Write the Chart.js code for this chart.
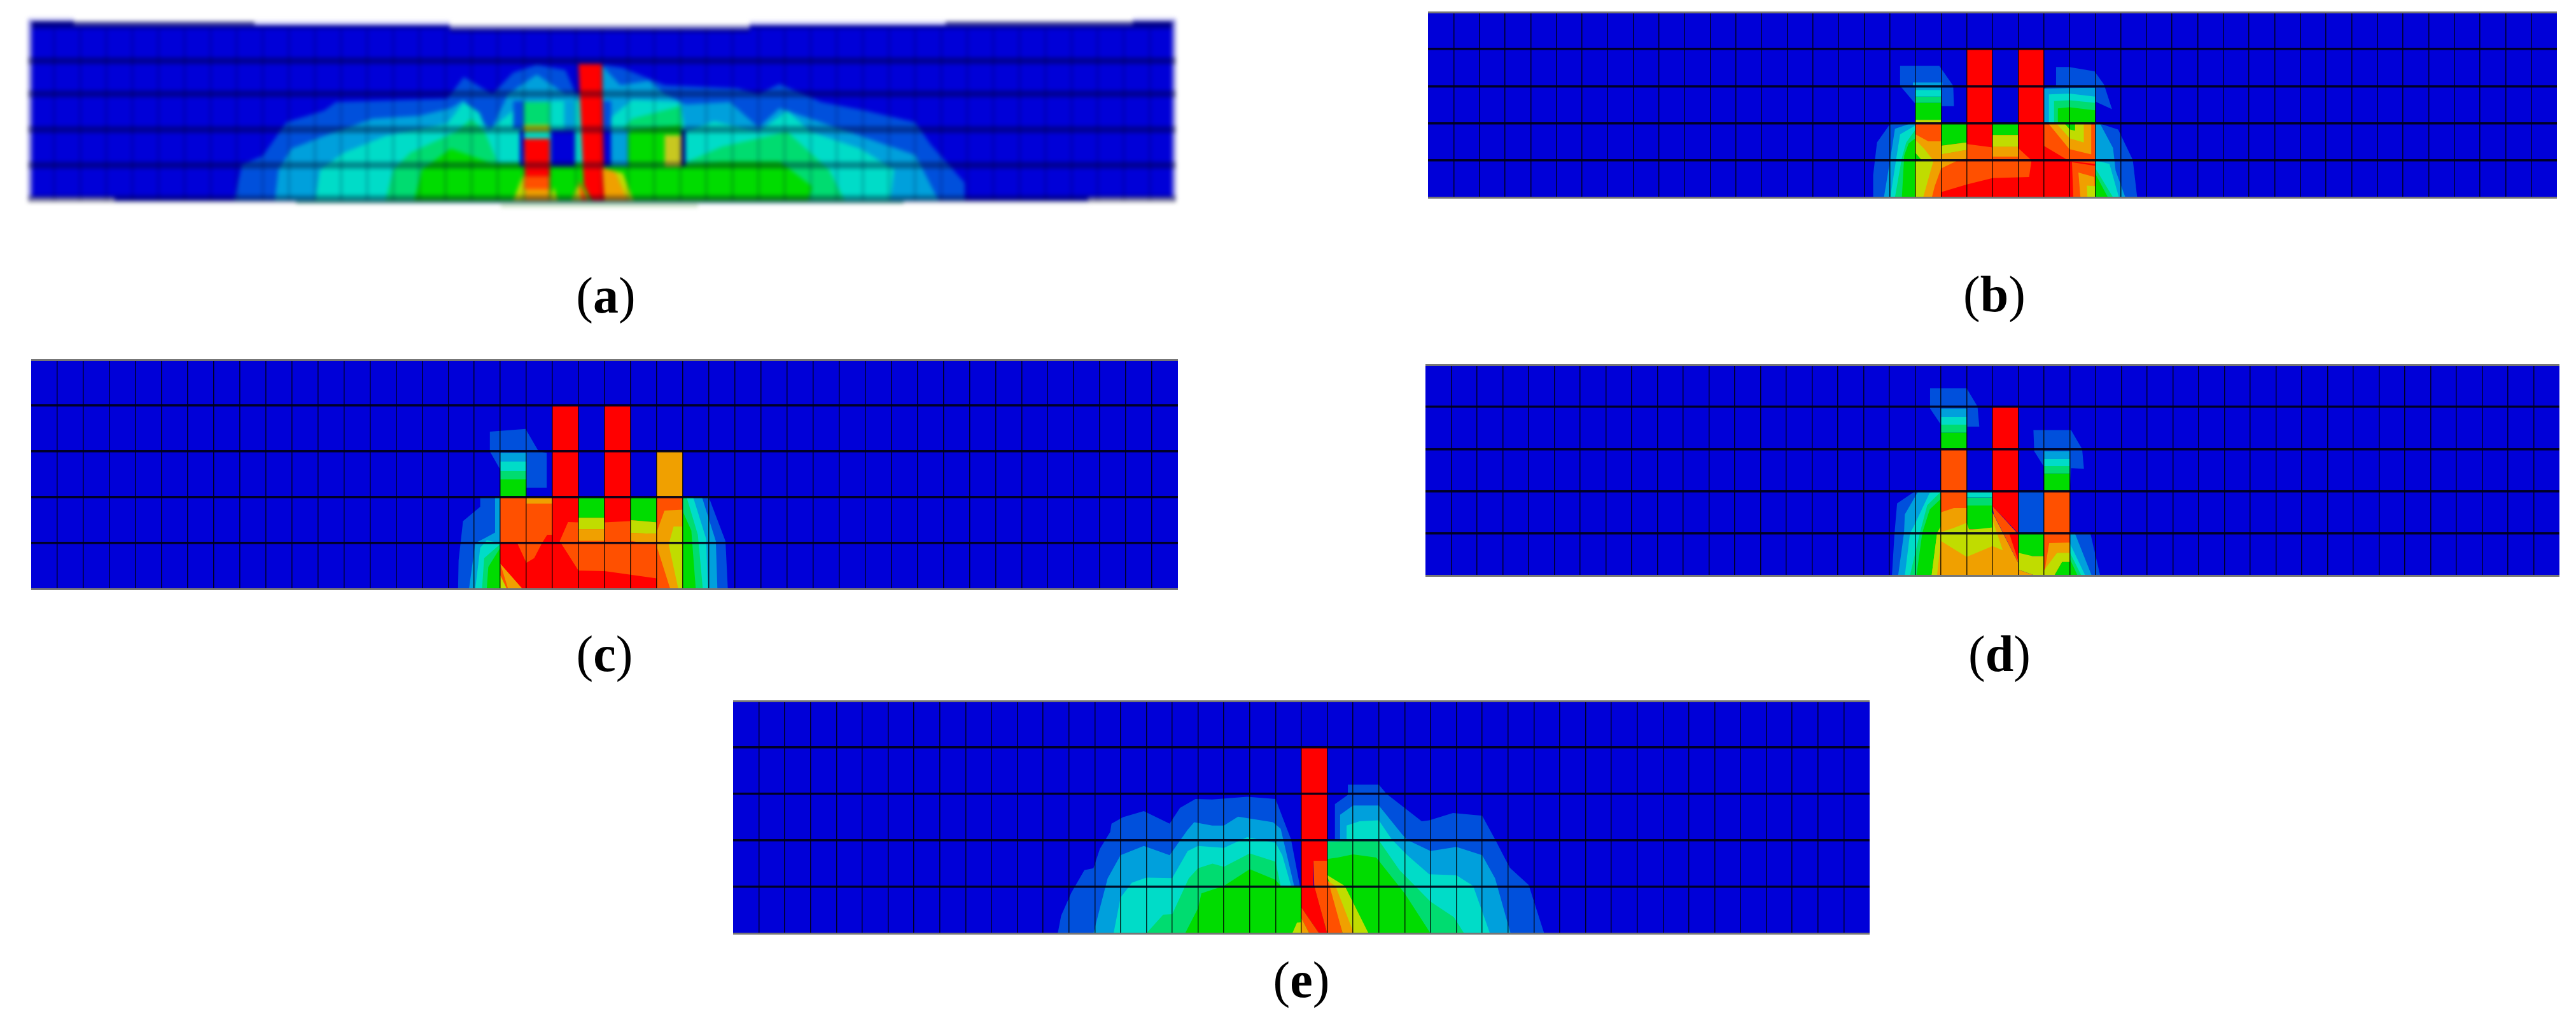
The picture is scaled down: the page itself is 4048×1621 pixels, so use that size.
<!DOCTYPE html>
<html><head><meta charset="utf-8">
<script src="https://cdn.jsdelivr.net/npm/chart.js@4"></script>
<style>
html,body{margin:0;padding:0;background:#fff;width:4048px;height:1621px;overflow:hidden}
canvas{position:absolute;display:block}
.cap{position:absolute;font-family:"Liberation Serif",serif;font-size:80px;line-height:80px;color:#000;transform:translate(-50%,-50%);white-space:nowrap}
</style></head><body>
<script>
/* contour colours */
const C0='#0000D8',C1='#0050DC',C2='#00A0DC',C3='#00DCC8',C4='#00DC70',C5='#00DC00',C6='#C0DC00',C7='#F0A000',C8='#FF5000',C9='#FF0000';
const rc=(x0,y0,x1,y1)=>[[x0,y0],[x1,y0],[x1,y1],[x0,y1]];

/* cell lines: columns and rows of the mesh */
const colLines=[1,2,3,4,5,6,7,8,9,10,11,12,13,14,15,16,17,18,19,20,21,22,23,24,25,26,27,28,29,30,31,32,33,34,35,36,37,38,39,40,41,42,43];
const rowLines=[0,1,2,3,4,5];
const rowLinesA=[0.05,1.02,2.07,3.11,4.07];

/* panel (b) */
const bHaloL=[[18.4,3.55],[19.93,3.55],[20.47,3.01],[20.5,2.46],[20,2.46],[20,2],[19,2],[19,2.52],[18.4,3.01]];
const bHaloR=[[24.48,3.52],[24.98,3.52],[25.98,3.4],[26.35,3.04],[26.66,2.38],[26.02,2.58],[26,2],[24,2],[24.02,2.96],[24.48,3.01]];
const bLowL1=[[17.35,0],[17.35,.6],[17.5,1.48],[18,1.97],[19,2],[19,0]];
const bLowR1=[[26,2],[26.2,1.99],[26.9,1.83],[27.47,1.01],[27.64,0],[26,0]];
const bLowL2=[[17.77,0],[18,.96],[18.2,1.85],[18.85,2],[19,2],[19,0]];
const bLowR2=[[26,2],[26.2,1.98],[26.7,1.33],[26.8,.72],[27.18,0],[26,0]];
const bLowL3=[[18.02,0],[18.23,.96],[18.4,1.7],[19,1.94],[19,0]];
const bLowR3=[[26,1],[26.56,.9],[26.93,0],[26,0]];
const bLowL4=[[18.2,0],[18.47,1.07],[18.64,1.48],[19,1.83],[19,0]];
const bLowR4=[[26,.8],[26.7,0],[26,0]];
const bLowL5=[[18.47,0],[18.56,1.13],[18.73,1.45],[19,1.6],[19,0]];
const bLowR5=[[26,.65],[26.5,0],[26,0]];
const bTopR2=[[24,2],[24,2.93],[25,2.95],[26,2.96],[26,2]];
const bTopR3=[[24.2,2],[24.2,2.78],[25,2.8],[26,2.72],[26,2]];
const bTopR4=[[24.4,2],[24.4,2.6],[25,2.62],[26,2.55],[26,2]];
const bTopR5=[[24.55,2],[24.55,2.4],[25,2.43],[26,2.35],[26,2]];
const bOrgL=[[19,1.7],[19.5,1.51],[20,1.51],[20,1.16],[21,1.28],[21,1.05],[20.6,.98],[20,.78],[19.75,.3],[19.64,0],[19.3,0],[19,.9]];
const bYelL=[[19,1.55],[19.35,1.3],[19.7,.99],[19.3,0],[19,0]];
const bGrnTri=[[19,1.2],[19.25,1],[19,.98]];
const bGrn20=[[20,2],[21,2],[21,1.48],[20,1.39]];
const bYel20=[[20,1.39],[21,1.48],[21,1.28],[20,1.16]];
const bRedCol=[[21,4],[22,4],[22,1.35],[21,1.44]];
const bRed=[[20,0],[20,.14],[21,.35],[22,.52],[23.43,.55],[23.52,1],[23,1.33],[23,4],[24,4],[24,1.39],[25,.98],[26,.9],[26,.85],[25.1,.95],[25.15,0]];
const bOrgR=[[24.17,2],[25.85,2],[25.85,1.16],[25,1.3]];
const bYelR=[[24.48,2],[25.56,2],[25.56,1.48],[25.02,1.59]];
const bGrnR=[[24.8,2],[25.22,2],[25.22,1.8],[25.02,1.83]];
const bOrgLow=[[25.35,.67],[25.97,.55],[26,0],[25.43,0]];
const bYelLow=[[25.68,.32],[26,.3],[26,0],[25.7,0]];
const layersB=[[C1,bHaloL],[C1,bHaloR],[C1,bLowL1],[C1,bLowR1],
 [C2,bLowL2],[C2,bLowR2],[C2,bTopR2],[C2,rc(18.9,3,20.05,3.1)],[C2,rc(19,2.9,20,3)],
 [C3,bLowL3],[C3,bLowR3],[C3,bTopR3],[C3,rc(19,2.72,20,2.9)],
 [C4,bLowL4],[C4,bLowR4],[C4,bTopR4],[C4,rc(19,2.55,20,2.72)],
 [C5,bLowL5],[C5,bLowR5],[C5,bTopR5],[C5,rc(19,2.09,20,2.55)],[C6,rc(19,2,20,2.09)],
 [C8,rc(19,0,26,2)],[C7,bOrgL],[C6,bYelL],[C5,bGrnTri],[C5,bGrn20],[C6,bYel20],
 [C5,rc(22,1.68,23,2)],[C6,rc(22,1.36,23,1.68)],[C7,rc(22,1.1,23,1.36)],
 [C9,bRedCol],[C9,bRed],[C7,bOrgR],[C6,bYelR],[C5,bGrnR],[C7,bOrgLow],[C6,bYelLow]];

/* panel (c) */
const cHalo=[[17.6,3.43],[18.97,3.49],[19.47,3],[19.78,2.97],[19.78,2.21],[19,2.21],[19,2],[18,2],[18,2.6],[17.6,3]];
const cLowL1=[[17.23,2],[18,2],[18,0],[16.38,0],[16.4,.62],[16.57,1.48],[17.23,1.79]];
const cLowL2=[[17.8,2],[18,2],[18,0],[16.8,0],[17.04,1],[17.42,1.11],[17.8,1.23]];
const cLowL3=[[17.04,0],[17.23,.9],[17.48,1.06],[18,1],[18,0]];
const cLowL4=[[17.3,0],[17.38,.67],[17.98,.97],[18,0]];
const cLowL5=[[17.48,0],[17.54,.48],[18,.9],[18,0]];
const cLowR1=[[25,2],[26,2],[26.64,1.04],[26.73,0],[25,0]];
const cLowR2=[[25,2],[25.74,2],[26.27,1.04],[26.33,0],[25,0]];
const cLowR3=[[25,2],[25.4,2],[25.9,1.09],[25.96,0],[25,0]];
const cLowR4=[[25,2],[25.15,2],[25.58,1.18],[25.77,0],[25,0]];
const cLowR5=[[25,1.69],[25.33,1.27],[25.5,0],[25,0]];
const cRed=[[18,1],[18.65,1],[19,.57],[19.3,.67],[19.6,1],[19.8,1.18],[20,1.18],[20,4],[21,4],[21,1.45],[20.6,1.46],[20.28,1.04],[21,.4],[22,.39],[24,.23],[24,0],[18.85,0],[18,.55]];
const cRed2=[[22,4],[23,4],[23,1.48],[22,1.45]];
const cGrn23=[[23,2],[24,2],[24,1.45],[23,1.5]];
const cYel23=[[23,1.5],[24,1.45],[24,1.2],[23,1.22]];
const cOrg23=[[23,1.22],[24,1.2],[24,1],[23.5,1],[23,1.05]];
const cOrg24=[[24.02,1.27],[24.3,1.71],[25,1.73],[25,0],[24.52,0],[24.02,.9]];
const cYel24=[[24.46,.97],[24.65,1.36],[25,1.36],[25,0],[24.83,0]];
const cOrgB=[[18,.55],[18.85,0],[18.3,0]];
const cYelB=[[18,.3],[18.25,0],[18,0]];
const layersC=[[C1,cHalo],[C1,cLowL1],[C1,cLowR1],
 [C2,cLowL2],[C2,cLowR2],[C2,rc(18,2.78,19,2.97)],
 [C3,cLowL3],[C3,cLowR3],[C3,rc(18,2.57,19,2.78)],
 [C4,cLowL4],[C4,cLowR4],[C4,rc(18,2.39,19,2.57)],
 [C5,cLowL5],[C5,cLowR5],[C5,rc(18,2,19,2.39)],
 [C7,rc(24,2,25,3)],[C8,rc(18,0,25,2)],[C7,rc(19,1.86,20,2)],
 [C5,rc(21,1.55,22,2)],[C6,rc(21,1.3,22,1.55)],[C7,rc(21,1.05,22,1.3)],
 [C5,cGrn23],[C6,cYel23],[C7,cOrg23],[C7,cOrg24],[C6,cYel24],[C9,cRed],[C9,cRed2],[C7,cOrgB],[C6,cYelB]];

/* panel (d) */
const dHalo1=[[19.58,4.44],[21,4.44],[21.42,4.01],[21.49,3.53],[21.02,3.53],[21,3],[20,3],[20,3.58],[19.58,3.96]];
const dHalo2=[[23.59,3.45],[25.05,3.45],[25.48,3],[25.55,2.53],[25.05,2.55],[25,2],[24,2],[24,2.58],[23.62,2.95]];
const dLowL1=[[19,2],[20,2],[20,0],[18.1,0],[18.2,1],[18.3,1.71]];
const dLowL2=[[19.1,1.98],[20,2],[20,0],[18.34,0],[18.57,1.02],[18.6,1.45]];
const dLowL3=[[19.57,1.97],[20,2],[20,0],[18.6,0],[18.8,1],[18.95,1.17]];
const dLowL4=[[19.95,1.96],[20,1.96],[20,0],[18.8,0],[19.2,1.05],[19.47,1.67]];
const dLowL5=[[20,1.82],[20,0],[19.05,0],[19.28,1.02],[19.57,1.57]];
const dLowR1=[[25,1],[25.8,1],[26.18,0],[25,0]];
const dLowR2=[[25,1],[25.2,1],[25.85,0],[25,0]];
const dLowR3=[[25,.77],[25.6,0],[25,0]];
const dLowR4=[[25,.55],[25.45,0],[25,0]];
const dLowR5=[[25,.4],[25.3,0],[25,0]];
const dOrg=[[19.64,0],[19.85,1],[20,1.17],[20,1.5],[20.5,1.6],[21,1.6],[21,1.1],[22,1.1],[22,1.5],[23,.3],[23,0]];
const dYelStrip=[[19.64,0],[19.85,1],[20,1.17],[20,.82],[19.85,0]];
const dYel=[[19.85,1],[20.5,1.13],[21,1.25],[21.1,1.08],[22,1.14],[22,1.32],[22.4,.6],[22,.7],[21,.44],[20,.82]];
const dOr2=[[22,1.65],[23,.98],[23,.3],[22.05,1.45]];
const dRed=[[22,4],[23,4],[23,1],[22,1.65]];
const dRedSl=[[22.65,1],[23,1],[23,.35]];
const dYel23=[[23,.54],[23.55,.46],[24,.46],[24,0],[23.65,0],[23,.14]];
const dOrg23=[[23,.14],[23.65,0],[23,0]];
const dOrg24=[[24.2,.77],[25,.78],[25,.54],[24.5,.54],[24.03,.12]];
const dYel24=[[24.5,.54],[25,.54],[25,.32],[24.7,.32],[24.4,0],[24,0],[24,.12]];
const dGrn24=[[24.7,.32],[25,.32],[25,0],[24.4,0]];
const layersD=[[C1,dHalo1],[C1,dHalo2],[C1,dLowL1],[C1,dLowR1],[C1,rc(23,1,24,2)],
 [C2,dLowL2],[C2,dLowR2],[C2,rc(20,3.76,21,3.96)],[C2,rc(24,2.77,25,2.95)],
 [C3,dLowL3],[C3,dLowR3],[C3,rc(20,3.58,21,3.76)],[C3,rc(24,2.6,25,2.77)],[C3,rc(21,1.85,22,2)],
 [C4,dLowL4],[C4,dLowR4],[C4,rc(20,3.39,21,3.58)],[C4,rc(24,2.42,25,2.6)],[C4,rc(21,1.66,22,1.85)],
 [C5,dLowL5],[C5,dLowR5],[C5,rc(20,3,21,3.39)],[C5,rc(24,2,25,2.42)],[C5,rc(21,1.1,22,1.66)],[C5,rc(23,.46,24,1)],
 [C8,rc(20,1.5,21,3)],[C8,rc(24,0,25,2)],[C7,dOrg],[C6,dYelStrip],[C6,dYel],[C8,dOr2],[C9,dRed],[C9,dRedSl],
 [C6,dYel23],[C7,dOrg23],[C7,dOrg24],[C6,dYel24],[C5,dGrn24]];

/* panel (e) */
const eL1=[[12.57,0],[12.7,.38],[13.1,.88],[13.6,1.36],[13.95,1.4],[14.2,1.82],[14.6,2.18],[14.65,2.36],[15.1,2.5],[15.9,2.63],[16.9,2.36],[17.3,2.7],[17.9,2.89],[18.55,2.88],[19.9,2.94],[21,2.89],[21.6,2.02],[21.95,1],[23,1],[23,2.02],[23.3,2.02],[23.3,2.78],[23.8,2.98],[23.8,3.2],[25,3.2],[25.3,3],[26.66,2.41],[26.95,2.43],[27.87,2.59],[29,2.53],[29.5,2.02],[30.07,1.41],[30.8,1.04],[31.4,0]];
const eL2=[[13.95,0],[14.2,.54],[14.5,1.18],[15,1.68],[15.9,1.88],[16.9,1.68],[17.6,2.23],[17.85,2.39],[18.55,2.32],[19,2.32],[19.55,2.51],[20.9,2.39],[21.2,2.25],[21.72,1.02],[22,1],[23,1],[23,2],[23.5,2.02],[23.5,2.55],[24,2.75],[25,2.75],[25.9,2.13],[26.1,2.01],[27,1.77],[28,1.86],[29,1.68],[29.5,1.18],[30.1,0]];
const eL3=[[14.73,0],[15,.77],[15.44,1.09],[16,1.2],[17,1.19],[17.6,1.77],[18,1.88],[19,1.84],[19.9,2.07],[21,1.95],[21.26,1.68],[21.6,1.02],[22,1],[23,1],[23,2],[23.75,2.02],[23.75,2.32],[24.25,2.41],[25,2.43],[25.5,2.02],[26.1,1.68],[26.95,1.27],[28,1.25],[28.65,1.02],[29.3,0]];
const eL4=[[16,0],[16.65,.4],[17,.41],[17.64,1.18],[18,1.4],[18.56,1.5],[19,1.43],[20,1.72],[21,1.54],[21.2,1.02],[22,1],[23,1],[23,1.96],[24,2],[25,2],[25.8,1.36],[27,.68],[27.9,.35],[28.3,0]];
const eL5=[[17.5,0],[18,.54],[18.13,.86],[19,1.02],[20,1.38],[21,1.15],[21.2,1.02],[22,1],[23,1],[23,1.6],[23.4,1.63],[24,1.7],[24.9,1.63],[26,.86],[27,0]];
const eRedCol=[[22,4],[23,4],[23,1.56],[22.47,1.56],[22.47,1],[22,1]];
const eYel=[[22.95,1.27],[23.68,1.02],[24.6,0],[24.03,0]];
const eOrg=[[22.95,1.15],[23.32,1.02],[24.03,0],[23.6,0]];
const eOr=[[22.47,1.56],[23,1.56],[23,1.2],[23.6,0],[23,0],[22.5,1]];
const eRedB=[[22,1.02],[22.5,1.02],[23,0],[22.68,0],[22,.55]];
const eOrB=[[22,.55],[22.68,0],[22.3,0],[22,.33]];
const eOrgB=[[22,.33],[22.3,0],[21.97,0]];
const eYelB=[[21.65,0],[21.83,.23],[22,.24],[22,0]];
const layersE=[[C1,eL1],[C2,eL2],[C3,eL3],[C4,eL4],[C5,eL5],[C6,eYel],[C7,eOrg],[C8,eOr],[C9,eRedCol],[C9,eRedB],[C8,eOrB],[C7,eOrgB],[C6,eYelB]];

/* panel (a) */
const aBody=[[0,0],[0,5.22],[1.76,5.22],[1.76,5.11],[16.17,5.11],[16.17,5],[27.66,5],[27.66,5.11],[42.34,5.11],[42.34,5.22],[44,5.22],[44,0]];
const aL1=[[7.9,0],[8.2,1.05],[9,1.3],[9.9,2.28],[11.35,2.62],[11.8,2.87],[16.07,2.96],[16.7,3.6],[17.8,3.1],[18.6,3.73],[19.5,3.95],[20.6,3.8],[21,3.1],[22.04,3.1],[22.04,3.95],[22.8,3.86],[24.4,3.36],[27.2,3.27],[28,3.1],[28.8,3.4],[30.4,2.87],[32.1,2.62],[34,2.28],[34.6,1.63],[35.9,.52],[35.9,0]];
const aL2=[[9.46,0],[9.6,.9],[10.1,1.51],[11.35,1.88],[13.2,2.38],[15,2.47],[16.2,2.69],[16.7,2.93],[17.2,2.3],[17.8,2.13],[18.4,3.1],[19.5,3.67],[20.6,3.1],[22,3.1],[22,3.92],[22.7,3.36],[23.8,3.49],[24.4,3.1],[25.2,2.8],[26.9,2.87],[28,2.13],[28.8,2.69],[30.4,2.28],[31.9,1.88],[34,1.33],[34.3,.9],[34.9,0]];
const aL3=[[11,0],[11.2,.9],[12.1,1.39],[13.7,1.88],[16.07,2.25],[16.7,2.87],[17.3,2.56],[17.6,2],[19,2.87],[22,2.93],[22,2.2],[23.15,2.93],[25,2.87],[25.2,2],[26.3,2.31],[28,2],[29.1,2.62],[30,2],[31.9,1.51],[33.2,.9],[33.05,0]];
const aL4=[[13.7,0],[14,.9],[14.65,1.39],[16.4,2],[17,2.38],[17.5,2],[18,1.1],[22,1.1],[22.6,1.9],[23.15,2.38],[25,2.75],[25.2,1.1],[26.6,1.57],[29.1,2],[30.7,.9],[31.3,0]];
const aL5=[[14.8,0],[15.1,.9],[16.2,1.51],[17.8,1.08],[22,1.08],[23.15,2.07],[25,2.19],[25.2,1.05],[26.6,1.14],[28.8,1.14],[30.06,.4],[29.9,0]];
const aGapL=rc(18.6,2.1,19,2.9);
const aGapL2=rc(18.85,1,19,2.05);
const aGap20=rc(20.05,1,20.95,2.05);
const aCyan20=rc(20.05,2.05,20.95,2.9);
const aTeal20=rc(20.05,2.05,20.55,2.9);
const aGap22=rc(22.05,1,22.35,2.05);
const aBlue22=rc(22.35,1,23,2.05);
const aBlue22b=rc(22.05,2.05,22.35,2.9);
const aGrn19=rc(19,2.2,20,2.87);
const aYel19=rc(19,2,20,2.2);
const aRed19=[[19,1.8],[20,1.8],[20,.7],[19.05,.7]];
const aOr19=rc(19.02,.33,20,.7);
const aOrg19=rc(19.05,0,20,.33);
const aYelL=[[18.6,0],[19,.8],[19.05,0]];
const aRed21=[[21.1,3.98],[22,3.98],[22.1,0],[21.6,0],[21.3,.45]];
const aOrg22=[[22,.95],[22.5,.85],[23,0],[22.1,0]];
const aYel22=[[22.5,.85],[22.8,.8],[23.2,0],[23,0]];
const aYel20=[[20,0],[20.15,.4],[20.3,0]];
const aYel21=[[20.85,0],[21.05,.45],[21.4,0]];
const aOr21=[[21.1,.6],[21.5,0],[21.2,0]];
const aYel24=rc(24.4,.98,25.05,1.9);
const aNavy25=rc(25.05,1,25.2,2.05);
const aSide=[[0,0],[.15,0],[.15,5.22],[0,5.22]];
const aSideR=[[43.85,0],[44,0],[44,5.22],[43.85,5.22]];
const layersA=[[C0,aBody],[C1,aL1],[C2,aL2],[C3,aL3],[C4,aL4],[C5,aL5],[C1,aGapL],[C0,aGapL2],[C0,aGap20],[C2,aCyan20],[C3,aTeal20],[C0,aGap22],[C2,aBlue22],[C1,aBlue22b],
 [C4,aGrn19],[C6,aYel19],[C9,aRed19],[C8,aOr19],[C7,aOrg19],[C6,aYelL],[C9,aRed21],[C7,aOrg22],[C6,aYel22],[C6,aYel20],[C6,aYel21],[C8,aOr21],['#C8C820',aYel24],['#000080',aNavy25],
 ['#00009A',rc(0,5.0,16.17,5.11)],['#00009A',rc(16.17,4.89,27.66,5.0)],['#00009A',rc(27.66,5.0,44,5.11)],['#00007E',rc(0,5.11,1.76,5.22)],['#00007E',rc(42.34,5.11,44,5.22)],
 ['#B8B8F0',rc(0,5.22,1.76,5.31)],['#5050A0',rc(1.76,5.11,8.68,5.22)],['#C8C8F8',rc(8.68,5.11,16.17,5.22)],['#8888C8',rc(16.17,5,27.66,5.11)],['#C8C8F8',rc(27.66,5.11,35.17,5.22)],['#5050A0',rc(35.17,5.11,42.34,5.22)],['#B8B8F0',rc(42.34,5.22,44,5.31)],
 ['#9090E0',aSide],['#9090E0',aSideR],
 ['#B0B0F0',rc(0,0,3.32,.09)],['#B0B0F0',rc(40.63,0,44,.09)],
 ['#60A8A0',rc(10.27,-.09,25.68,0)],['#60A8A0',rc(25.68,-.09,33.56,0)],['#D0E4C8',rc(18.12,-.2,25.68,-.09)],['#E8ECFA',rc(3.32,-.09,10.27,0)],['#E8ECFA',rc(33.56,-.09,40.63,0)]];

/* captions */
const capLetters=['a','b','c','d','e'];

/* layout: [plot left, plot right, y of value top, y of value bottom, value top, value bottom] */
const pad=10;
const plotA=[44,1848,25.6,330,5.36,-0.28];
const plotB=[2244,4018,19,310,5,0];
const plotC=[49,1851,565,925,5,0];
const plotD=[2240,4022,573,904,5,0];
const plotE=[1152,2938,1101,1466,5,0];
const capPos=[[952,464],[3134,462],[950,1027],[3142,1027],[2045,1539]];

function panel(plot,layers,rows,g,bg,filter){
  const [l,r,t,b,vTop,vBot]=plot;
  const c=document.createElement('canvas');
  c.width=r-l+2*pad;c.height=b-t+2*pad;
  c.style.left=(l-pad)+'px';c.style.top=(t-pad)+'px';
  c.style.width=c.width+'px';c.style.height=c.height+'px';
  if(filter)c.style.filter=filter;
  document.body.appendChild(c);
  const n=layers.length;
  const polys=layers.map(([col,pts],i)=>({data:pts,backgroundColor:col,borderColor:col,borderWidth:0,pointRadius:0,fill:'shape',showLine:true,tension:0,order:n-i+50}));
  /* panel (a): its mesh columns stop at the ragged top and bottom edge, so they are line datasets */
  const cols=g.colsAsLines?colLines.map(v=>({data:[[v,0],[v,5]],borderColor:g.vColor,borderWidth:g.vWidth,pointRadius:0,fill:false,showLine:true,order:1})):[];
  new Chart(c,{type:'scatter',
    data:{datasets:polys.concat(cols)},
    plugins:bg?[{id:'bg',beforeDraw(ch){const {ctx,chartArea:a}=ch;ctx.save();ctx.fillStyle=bg;ctx.fillRect(a.left,a.top,a.right-a.left,a.bottom-a.top);ctx.restore();}}]:[],
    options:{responsive:false,animation:false,events:[],devicePixelRatio:1,layout:{padding:pad},
      plugins:{legend:{display:false},tooltip:{enabled:false},title:{display:false}},
      scales:{
        x:{type:'linear',min:0,max:44,afterBuildTicks:s=>{s.ticks=colLines.map(v=>({value:v}));},ticks:{display:false},border:{display:false},
           grid:{display:!g.colsAsLines,z:1,drawTicks:false,color:g.vColor,lineWidth:g.vWidth}},
        y:{type:'linear',min:vBot,max:vTop,afterBuildTicks:s=>{s.ticks=rows.map(v=>({value:v}));},ticks:{display:false},border:{display:false},
           grid:{z:1,drawTicks:false,color:g.hColor,lineWidth:g.hWidth}}
      }}});
}
const edgeColor=c=>(c.tick&&(c.tick.value===0||c.tick.value===5))?'#777':'rgba(0,0,25,.92)';
const edgeWidth=c=>(c.tick&&(c.tick.value===0||c.tick.value===5))?3:3.5;
const sharp={vColor:'rgba(0,0,0,.8)',vWidth:1.5,hColor:edgeColor,hWidth:edgeWidth};
const soft={colsAsLines:true,vColor:'rgba(0,0,50,.2)',vWidth:4,hColor:'rgba(0,0,40,.36)',hWidth:11};

panel(plotA,layersA,rowLinesA,soft,null,'blur(3px)');
panel(plotB,layersB,rowLines,sharp,C0);
panel(plotC,layersC,rowLines,sharp,C0);
panel(plotD,layersD,rowLines,sharp,C0);
panel(plotE,layersE,rowLines,sharp,C0);

capLetters.forEach((ch,i)=>{
  const d=document.createElement('div');d.className='cap';
  d.style.left=capPos[i][0]+'px';d.style.top=capPos[i][1]+'px';
  d.innerHTML='(<b>'+ch+'</b>)';
  document.body.appendChild(d);
});
</script>
</body></html>
